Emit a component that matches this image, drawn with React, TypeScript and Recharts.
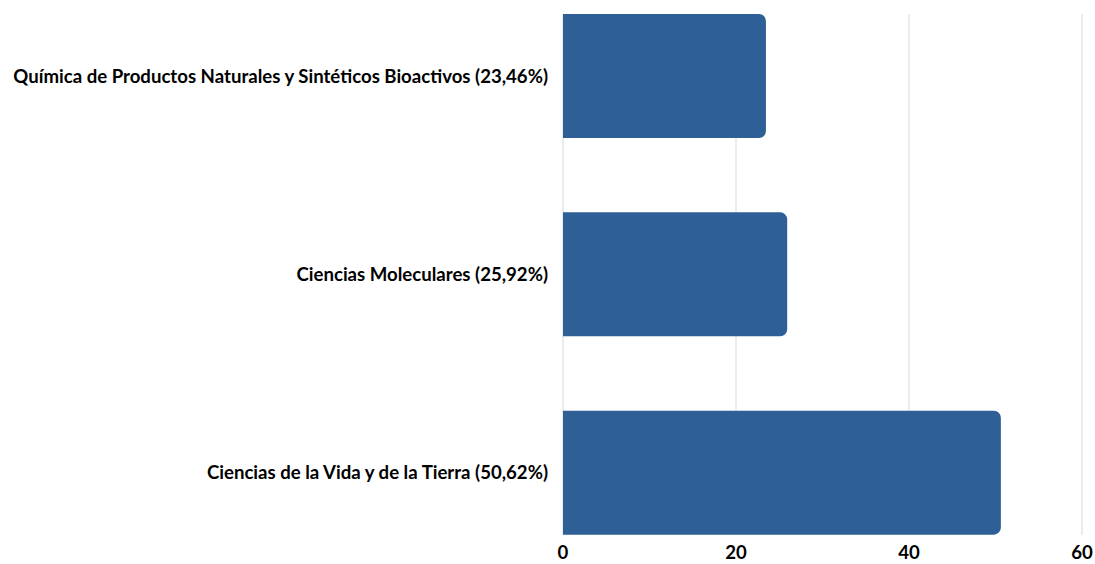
import { Bar, BarChart, CartesianGrid, XAxis, YAxis } from "recharts";

// Porcentaje por área, barras horizontales con el eje 0–60.
const categories = [
  "Química de Productos Naturales y Sintéticos Bioactivos (23,46%)",
  "Ciencias Moleculares (25,92%)",
  "Ciencias de la Vida y de la Tierra (50,62%)",
];
const values = [23.46, 25.92, 50.62];
const xTicks = [0, 20, 40, 60];

const data = categories.map((name, i) => ({ name, value: values[i] }));

const tickFont = { fill: "#000", fontSize: 18.6, fontWeight: 700, fontFamily: "Lato, 'Open Sans', sans-serif" };

export default function App() {
  return (
    <div style={{ position: "absolute", left: 0, top: 0, background: "#fff" }}>
      <BarChart
        width={1095}
        height={564}
        data={data}
        layout="vertical"
        margin={{ top: 14, right: 13, bottom: 4, left: 0 }}
        barCategoryGap={37}
      >
        <CartesianGrid horizontal={false} stroke="#d9d9d9" strokeWidth={1} />
        <XAxis
          type="number"
          domain={[0, 60]}
          ticks={xTicks}
          axisLine={false}
          tickLine={false}
          tick={tickFont}
          tickMargin={5}
          height={25}
        />
        <YAxis
          type="category"
          dataKey="name"
          width={563}
          axisLine={false}
          tickLine={false}
          tick={tickFont}
          tickMargin={9}
          padding={{ top: -37, bottom: -37 }}
        />
        <Bar dataKey="value" fill="#2e5f97" radius={[0, 7, 7, 0]} isAnimationActive={false} />
      </BarChart>
    </div>
  );
}
